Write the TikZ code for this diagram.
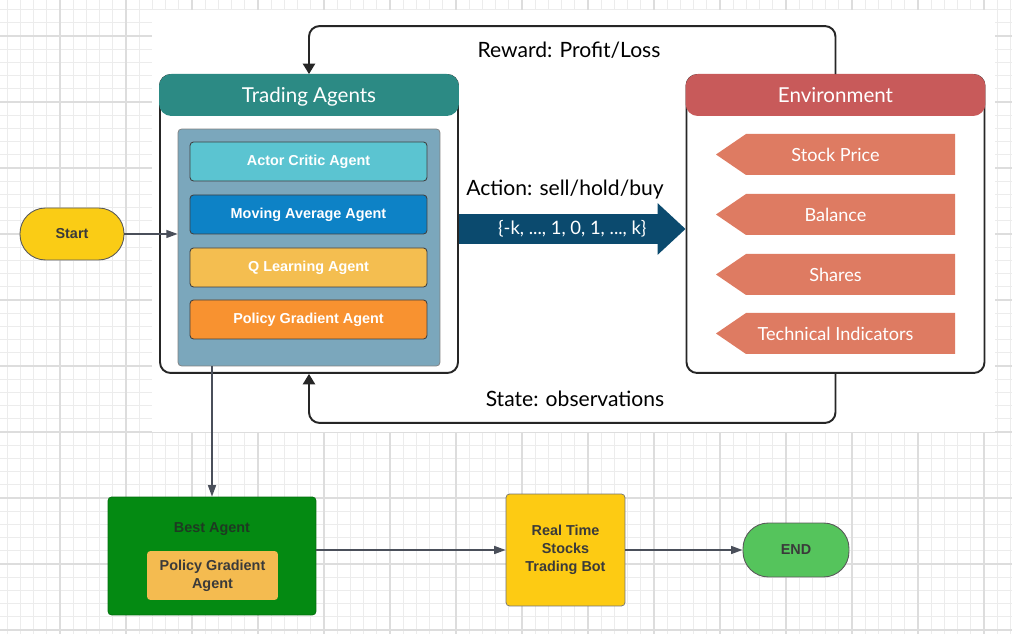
\documentclass[tikz,border=0pt]{standalone}
\usepackage{fontspec}
\setmainfont{Liberation Sans}
\newfontfamily\lato{Lato}
\usetikzlibrary{arrows.meta}

\definecolor{gridminor}{HTML}{ECECEC}
\definecolor{gridmajor}{HTML}{DDDDDD}
\definecolor{agentshead}{HTML}{2C8A84}
\definecolor{envhead}{HTML}{C85A5A}
\definecolor{panelc}{HTML}{7BA7BC}
\definecolor{actorc}{HTML}{5BC4D1}
\definecolor{movingc}{HTML}{0D82C6}
\definecolor{qlearnc}{HTML}{F4BE50}
\definecolor{policyc}{HTML}{F89230}
\definecolor{tagc}{HTML}{DE7B62}
\definecolor{actionc}{HTML}{0B4A6E}
\definecolor{startc}{HTML}{FACC15}
\definecolor{bestc}{HTML}{048A12}
\definecolor{besttext}{HTML}{1E3A22}
\definecolor{pickc}{HTML}{F4BB50}
\definecolor{botc}{HTML}{FDCB13}
\definecolor{endc}{HTML}{55C45C}
\definecolor{connc}{HTML}{4A4F5A}
\definecolor{darktext}{HTML}{3A3A3A}

\begin{document}
\begin{tikzpicture}[x=0.02cm,y=-0.02cm,
    agentbox/.style={draw=black!75,line width=0.5pt,rounded corners=2pt,minimum width=4.74cm,minimum height=0.78cm,text=white,font=\bfseries\fontsize{8.2}{10}\selectfont},
    header/.style={rounded corners=7pt,minimum width=6cm,minimum height=0.84cm,text depth=0pt,text=white,font=\lato\fontsize{11.7}{14}\selectfont},
    frame/.style={draw=black!85,line width=1.1pt,fill=white,rounded corners=6pt,minimum width=5.96cm,minimum height=5.96cm},
    tagtext/.style={text=white,font=\lato\fontsize{10.3}{12}\selectfont},
    looplabel/.style={font=\lato\fontsize{12}{14}\selectfont},
    loopline/.style={draw=black!85,line width=1.1pt,rounded corners=6pt,-{Triangle[length=6pt,width=7pt]}},
    conn/.style={draw=connc,line width=0.9pt,-{Triangle[length=6.5pt,width=4.5pt]}},
    terminal/.style={draw=black!65,line width=0.5pt,rounded corners=14.5pt,text=darktext,font=\bfseries\fontsize{8.2}{10}\selectfont},
    flowtext/.style={text=darktext,font=\bfseries\fontsize{8.2}{10.2}\selectfont,align=center}]
  \useasboundingbox (0,0) rectangle (1012,634);
  \fill[white] (0,0) rectangle (1012,634);
  % grid paper
  \foreach \i in {0,...,76}
    \draw[gridminor,line width=0.5pt] ({7.2+13.2*\i},0) -- ({7.2+13.2*\i},634);
  \foreach \i in {0,...,47}
    \draw[gridminor,line width=0.5pt] (0,{9.6+13.2*\i}) -- (1012,{9.6+13.2*\i});
  \foreach \i in {1,...,15}
    \draw[gridmajor,line width=0.6pt] ({-6+66*\i},0) -- ({-6+66*\i},634);
  \foreach \i in {0,...,9}
    \draw[gridmajor,line width=0.6pt] (0,{36+66*\i}) -- (1012,{36+66*\i});
  \fill[white] (152,10) rectangle (995,432);

  % agents
  \node[frame] (agents) at (309,224) {};
  \node[header,fill=agentshead] (agentstitle) at (309,95) {Trading Agents};
  \node[draw=black!50,line width=0.4pt,fill=panelc,rounded corners=2pt,minimum width=5.24cm,minimum height=4.74cm] (panel) at (309,247.5) {};
  \node[agentbox,fill=actorc] (actor) at (308.5,161.5) {Actor Critic Agent};
  \node[agentbox,fill=movingc] (moving) at (308.5,214.5) {Moving Average Agent};
  \node[agentbox,fill=qlearnc] (qlearn) at (308.5,267.5) {Q Learning Agent};
  \node[agentbox,fill=policyc] (policy) at (308.5,319.5) {Policy Gradient Agent};

  % environment
  \node[frame] (env) at (835.5,224) {};
  \node[header,fill=envhead] (envtitle) at (835.5,95) {Environment};
  \foreach \y/\name/\txt in {154.5/price/Stock Price,214.5/balance/Balance,274.5/shares/Shares,333.5/indicators/Technical Indicators} {
    \fill[tagc] (746,{\y-20.5}) -- (955,{\y-20.5}) -- (955,{\y+20.5}) -- (746,{\y+20.5}) -- (716,\y) -- cycle;
    \node[tagtext] (\name) at (835.5,\y) {\txt};
  }

  \draw[actionc,line width=17pt,-{Triangle[length=15.9pt,width=28.4pt]}] ([yshift=-0.1cm]agents.east) -- ([yshift=-0.1cm]env.west)
    node[pos=0.5,text=white,font=\lato\fontsize{10.5}{12}\selectfont] (actions) {\{-k, ..., 1, 0, 1, ..., k\}};
  \node[looplabel] (actionlabel) at (565,190) {Action: sell/hold/buy};

  \draw[loopline] (env.north) -- ++(0,-48) -| (agents.north);
  \node[looplabel] (reward) at (569,50) {Reward: Profit/Loss};
  \draw[loopline] (env.south) -- ++(0,49) -| (agents.south);
  \node[looplabel] (state) at (575,399) {State: observations};

  % flow
  \node[terminal,fill=startc,minimum width=2.08cm,minimum height=1.04cm] (start) at (72,234) {Start};
  \draw[conn] (start) -- (start -| panel.west);

  \node[draw=bestc!80!black,fill=bestc,rounded corners=2pt,minimum width=4.16cm,minimum height=2.36cm] (best) at (212,556) {};
  \node[flowtext,text=besttext] (besttitle) at (212,529) {Best Agent};
  \node[flowtext,fill=pickc,rounded corners=2pt,minimum width=2.62cm,minimum height=0.98cm] (pick) at (212.5,575.5) {Policy Gradient\\Agent};
  \draw[conn] (best.north |- panel.south) -- (best.north);

  \node[flowtext,draw=black!55,line width=0.4pt,fill=botc,rounded corners=2pt,minimum width=2.38cm,minimum height=2.24cm] (bot) at (565.5,550) {Real Time\\Stocks\\Trading Bot};
  \draw[conn] (bot -| best.east) -- (bot.west);

  \node[terminal,fill=endc,minimum width=2.12cm,minimum height=1.08cm] (finish) at (796,550) {END};
  \draw[conn] (bot.east) -- (finish.west);
\end{tikzpicture}
\end{document}
